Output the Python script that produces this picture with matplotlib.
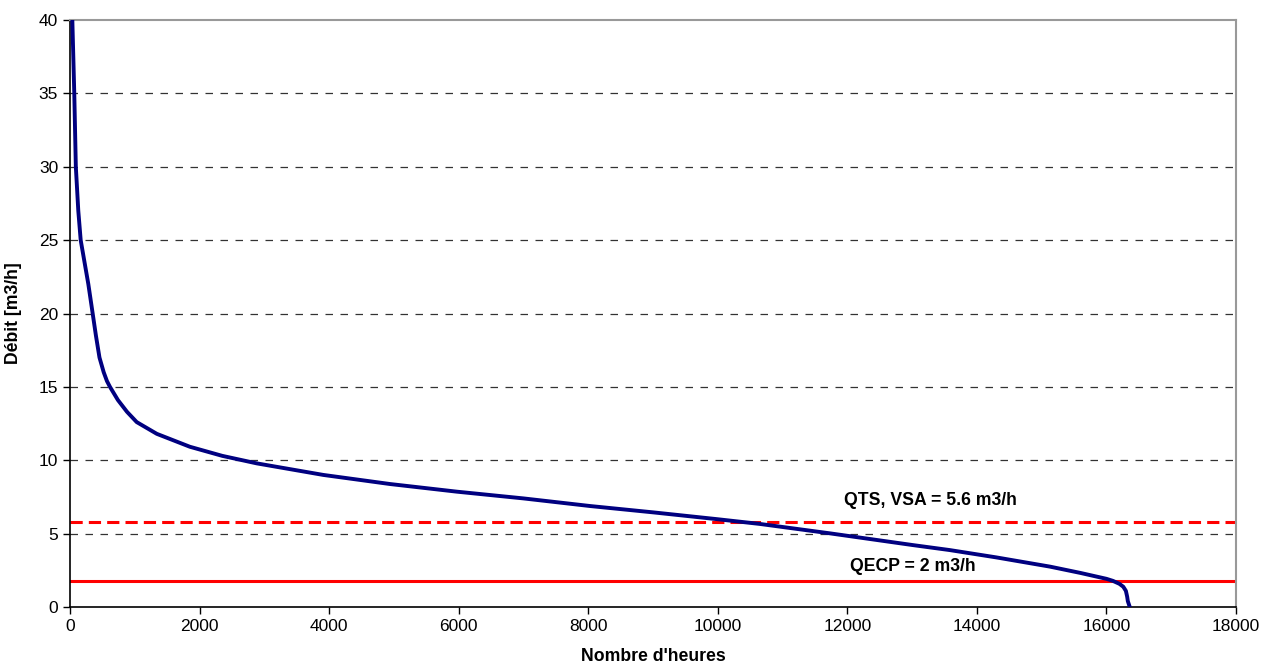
import matplotlib
matplotlib.use("Agg")
import matplotlib.pyplot as plt
import numpy as np

# courbe des débits classés
heures = [36, 66, 90, 128, 165, 283, 350, 400, 455, 520, 570, 617, 740, 880,
          1030, 1340, 1850, 2350, 2880, 3910, 4940, 5970, 7000, 8030, 9000,
          10000, 10650, 11730, 13010, 13580, 14300, 15130, 15600, 16000, 16100,
          16200, 16260, 16300, 16320, 16330, 16360]
debit = [40.0, 35.0, 30.0, 27.0, 25.0, 22.0, 20.0, 18.5, 17.0, 16.0, 15.4, 15.0,
         14.1, 13.3, 12.6, 11.8, 10.92, 10.3, 9.79, 9.0, 8.38, 7.86, 7.4, 6.88,
         6.45, 5.98, 5.66, 5.02, 4.22, 3.88, 3.38, 2.75, 2.32, 1.92, 1.78, 1.58,
         1.38, 1.1, 0.7, 0.4, 0.0]

seuil_qts = 5.8
seuil_qecp = 1.78
label_qts = "QTS, VSA = 5.6 m3/h"
label_qecp = "QECP = 2 m3/h"

plt.rcParams['font.family'] = ['Liberation Sans', 'DejaVu Sans']

fig = plt.figure(figsize=(12.62, 6.70), dpi=100)
ax = fig.add_axes([70 / 1262, 1 - 607 / 670, 1166 / 1262, 587 / 670])

for y in range(5, 40, 5):
    ax.axhline(y, color='#333333', lw=0.9, ls=(0, (6, 6)), zorder=1)

ax.axhline(seuil_qts, color='#ff0000', lw=2.2, ls=(0, (4, 2)), zorder=2)
ax.axhline(seuil_qecp, color='#ff0000', lw=2.2, zorder=2)
ax.plot(heures, debit, color='#000080', lw=2.8, zorder=3)

ax.text(13290, 7.29, label_qts, ha='center', va='center', fontsize=12.7, fontweight='bold')
ax.text(13010, 2.73, label_qecp, ha='center', va='center', fontsize=12.7, fontweight='bold')

ax.set_xlim(0, 18000)
ax.set_ylim(0, 40)
ax.set_xticks(np.arange(0, 18001, 2000))
ax.set_yticks(np.arange(0, 41, 5))
ax.tick_params(direction='out', length=5, width=1, labelsize=12.5, color='black')

for s in ['left', 'bottom']:
    ax.spines[s].set_color('black')
    ax.spines[s].set_linewidth(1.2)
for s in ['top', 'right']:
    ax.spines[s].set_color('#999999')
    ax.spines[s].set_linewidth(1.5)

ax.set_xlabel("Nombre d'heures", fontsize=12.7, fontweight='bold', labelpad=10)
ax.set_ylabel("Débit [m3/h]", fontsize=12.7, fontweight='bold', labelpad=12)

fig.savefig("out.png", dpi=100)
